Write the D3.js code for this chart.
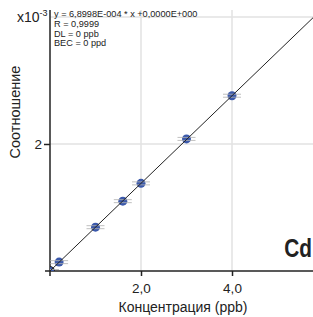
<!DOCTYPE html>
<html>
<head>
<meta charset="utf-8">
<script src="https://cdn.jsdelivr.net/npm/d3@7"></script>
<style>
  body { margin: 0; background: #fff; }
  svg { font-family: "Liberation Sans", Arial, sans-serif; }
</style>
</head>
<body>
<div id="chart"></div>
<script>
// calibration points, Cd
const concentrations = [0, 0.2, 1.0, 1.6, 2.0, 3.0, 4.0];   // ppb
const ratios = [0, 0.14, 0.69, 1.10, 1.38, 2.08, 2.76];      // x10^-3
const xTicks = [2, 4];
const yTicks = [2, 4];
const yLabels = [2];
const slope = 0.68998;   // x10^-3 per ppb
const infoLines = ['y = 6,8998E-004 * x +0,0000E+000', 'R = 0,9999', 'DL = 0 ppb', 'BEC = 0 ppd'];

const width = 313, height = 317;
const margin = { top: 10, right: 0, bottom: 46, left: 50 };

const svg = d3.select('#chart').append('svg')
  .attr('width', width)
  .attr('height', height);

const x = d3.scaleLinear().domain([0, 5.78]).range([margin.left, width - margin.right]);
const y = d3.scaleLinear().domain([0, 4.11]).range([height - margin.bottom, margin.top]);

svg.append('defs').append('clipPath').attr('id', 'plot')
  .append('rect')
  .attr('x', margin.left).attr('y', margin.top)
  .attr('width', width - margin.left - margin.right)
  .attr('height', height - margin.top - margin.bottom);

// grid
svg.append('g').selectAll('line').data(xTicks).enter().append('line')
  .attr('x1', d => x(d)).attr('x2', d => x(d))
  .attr('y1', y.range()[0]).attr('y2', y.range()[1])
  .attr('stroke', '#e2e2e2').attr('stroke-width', 1.5);
svg.append('g').selectAll('line').data(yTicks).enter().append('line')
  .attr('x1', x.range()[0]).attr('x2', x.range()[1])
  .attr('y1', d => y(d)).attr('y2', d => y(d))
  .attr('stroke', '#e2e2e2').attr('stroke-width', 1.5);

// axes
const xAxis = svg.append('g')
  .attr('transform', 'translate(0,' + y(0) + ')')
  .call(d3.axisBottom(x).tickValues(xTicks).tickSize(5).tickSizeOuter(0)
    .tickFormat(d => d3.format('.1f')(d).replace('.', ',')));
const yAxis = svg.append('g')
  .attr('transform', 'translate(' + x(0) + ',0)')
  .call(d3.axisLeft(y).tickValues(yLabels).tickSize(6).tickSizeOuter(0).tickFormat(d3.format('d')));

[xAxis, yAxis].forEach(a => {
  a.select('.domain').remove();
  a.selectAll('.tick line').attr('stroke', '#222').attr('stroke-width', 1.5);
  a.selectAll('.tick text').attr('font-size', 13.5).attr('fill', '#222')
    .attr('font-family', '"Liberation Sans", Arial, sans-serif');
});
xAxis.selectAll('.tick text').attr('y', 22).attr('dy', 0);
yAxis.selectAll('.tick text').attr('x', -8);

svg.append('line')
  .attr('x1', x(0) - 5).attr('x2', x.range()[1])
  .attr('y1', y(0)).attr('y2', y(0))
  .attr('stroke', '#222').attr('stroke-width', 1.5);
svg.append('line')
  .attr('x1', x(0)).attr('x2', x(0))
  .attr('y1', y(0) + 5).attr('y2', y.range()[1])
  .attr('stroke', '#222').attr('stroke-width', 1.5);

// points
const pts = svg.append('g').attr('clip-path', 'url(#plot)');
pts.selectAll('circle').data(concentrations).enter().append('circle')
  .attr('cx', d => x(d))
  .attr('cy', (d, i) => y(ratios[i]))
  .attr('r', 4.5)
  .attr('fill', '#3b59ab')
  .attr('stroke', (d, i) => i === 0 ? '#222' : 'none')
  .attr('stroke-width', 1);
[-1.5, 1.5].forEach(off => {
  pts.append('g').selectAll('line').data(concentrations).enter().append('line')
    .attr('x1', d => x(d) - 9).attr('x2', d => x(d) + 9)
    .attr('y1', (d, i) => y(ratios[i]) + off).attr('y2', (d, i) => y(ratios[i]) + off)
    .attr('stroke', '#b0b0b0').attr('stroke-opacity', 0.8).attr('stroke-width', 1);
});

// regression line
svg.append('line')
  .attr('clip-path', 'url(#plot)')
  .attr('x1', x(0)).attr('y1', y(0))
  .attr('x2', x(x.domain()[1])).attr('y2', y(slope * x.domain()[1]))
  .attr('stroke', '#222').attr('stroke-width', 1);

// labels
svg.append('text')
  .attr('x', 183).attr('y', 312)
  .attr('text-anchor', 'middle').attr('font-size', 14).attr('fill', '#222')
  .text('Концентрация (ppb)');

svg.append('text')
  .attr('transform', 'translate(20,112) rotate(-90)')
  .attr('text-anchor', 'middle').attr('font-size', 14.5).attr('fill', '#222')
  .text('Соотношение');

const exp = svg.append('text').attr('x', 17).attr('y', 22).attr('font-size', 14).attr('fill', '#222');
exp.append('tspan').text('x10');
exp.append('tspan').attr('font-size', 9).attr('dy', -6).text('-3');

svg.append('g')
  .attr('transform', 'translate(54,0) scale(1.08,1)')
  .selectAll('text').data(infoLines).enter().append('text')
  .attr('x', 0).attr('y', (d, i) => 17.5 + i * 9.6)
  .attr('font-size', 8.5).attr('fill', '#222')
  .text(d => d);

svg.append('g')
  .attr('transform', 'translate(312,257) scale(0.8,1)')
  .append('text')
  .attr('text-anchor', 'end').attr('font-size', 26).attr('font-weight', 'bold').attr('fill', '#222')
  .text('Cd');
</script>
</body>
</html>
